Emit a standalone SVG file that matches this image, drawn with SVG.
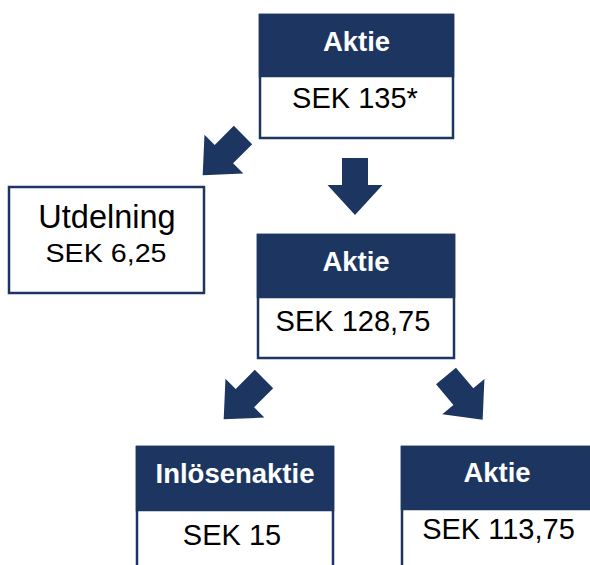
<svg xmlns="http://www.w3.org/2000/svg" width="590" height="565" viewBox="0 0 590 565">
<style>
.box{fill:#ffffff;stroke:#1c3661;stroke-width:2.5}
.hdr{fill:#1c3661;stroke:#1c3661;stroke-width:2.5}
.ht{font-family:"Liberation Sans",Arial,sans-serif;font-weight:bold;font-size:27.5px;fill:#ffffff;text-anchor:middle}
.bt{font-family:"Liberation Sans",Arial,sans-serif;font-size:29px;fill:#000000;text-anchor:middle}
.arr{fill:#1c3661}
</style>
<defs>
<path id="arrow" d="M-13,0 L13,0 L13,27 L27.5,27 L0,57 L-27.5,27 L-13,27 Z"/>
</defs>
<rect width="590" height="565" fill="#ffffff"/>
<g id="connectors" class="arr">
<use href="#arrow" transform="translate(355,158)"/>
<use href="#arrow" transform="translate(243,135) rotate(45)"/>
<use href="#arrow" transform="translate(264,379) rotate(45)"/>
<use href="#arrow" transform="translate(446,376) rotate(-40)"/>
</g>
<g id="aktie-top">
<rect class="box" x="260" y="15" width="193" height="123"/>
<rect class="hdr" x="260" y="15" width="193" height="61"/>
<text class="ht" x="356.5" y="51">Aktie</text>
<text class="bt" x="355" y="108">SEK 135*</text>
</g>
<g id="utdelning">
<rect class="box" x="9" y="187" width="195" height="106"/>
<text x="107" y="228" font-family="'Liberation Sans',Arial,sans-serif" font-size="32.5" text-anchor="middle">Utdelning</text>
<text x="106" y="262" font-family="'Liberation Sans',Arial,sans-serif" font-size="26" text-anchor="middle" textLength="121" lengthAdjust="spacingAndGlyphs">SEK 6,25</text>
</g>
<g id="aktie-mid">
<rect class="box" x="258" y="235" width="196" height="123"/>
<rect class="hdr" x="258" y="235" width="196" height="62"/>
<text class="ht" x="356" y="271">Aktie</text>
<text class="bt" x="353" y="331">SEK 128,75</text>
</g>
<g id="inlosenaktie">
<rect class="box" x="137" y="447" width="196" height="130"/>
<rect class="hdr" x="137" y="447" width="196" height="63"/>
<text class="ht" x="235" y="483">Inlösenaktie</text>
<text class="bt" x="232" y="545">SEK 15</text>
</g>
<g id="aktie-right">
<rect class="box" x="402" y="447" width="192" height="130"/>
<rect class="hdr" x="402" y="447" width="192" height="62"/>
<text class="ht" x="497" y="482">Aktie</text>
<text class="bt" x="498.5" y="539">SEK 113,75</text>
</g>
</svg>
